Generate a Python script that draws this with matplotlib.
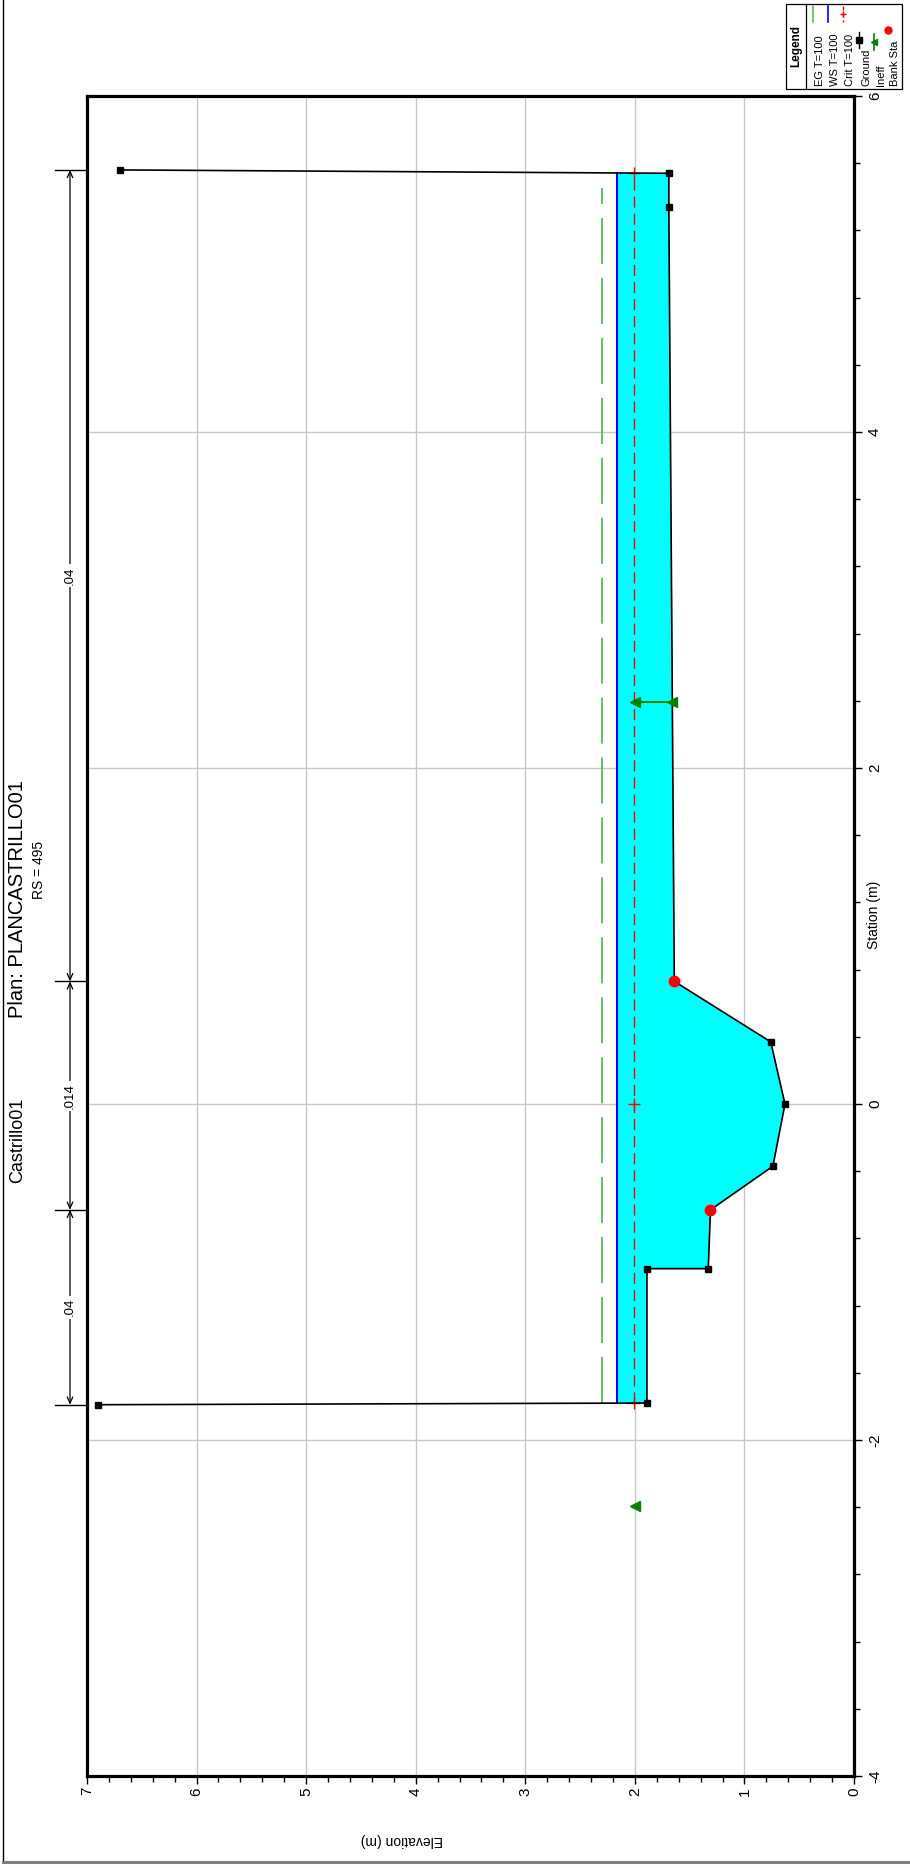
import numpy as np
import matplotlib
matplotlib.use("Agg")
import matplotlib.pyplot as plt
import matplotlib.transforms as mtransforms
from matplotlib.patches import Rectangle
from matplotlib.lines import Line2D
from matplotlib.ticker import MultipleLocator

plt.rcParams['font.family'] = ['Liberation Sans', 'DejaVu Sans']
plt.rcParams['axes.unicode_minus'] = False

# ground profile (station m, elevation m)
gr_sta = [-1.79, -1.78, -0.98, -0.98, -0.63, -0.37, 0.00, 0.37, 0.73, 5.34, 5.54, 5.56]
gr_elev = [6.90, 1.89, 1.89, 1.33, 1.31, 0.74, 0.63, 0.76, 1.64, 1.69, 1.69, 6.70]

bank_sta = [-0.63, 0.73]
bank_elev = [1.31, 1.64]

# water surfaces for T=100
ws_elev = 2.16
crit_elev = 2.01
eg_elev = 2.30
wet_sta = [-1.78, 5.54]
crit_mark_sta = [-1.78, 0.00, 5.54]

# ineffective flow markers
ineff_sta = [2.39, -2.39]
ineff_elev = [2.00, 2.00]
ineff_ground = [1.66, None]

# manning's n
n_bounds = [-1.79, -0.63, 0.73, 5.56]
n_labels = ['.04', '.014', '.04']

W, H = 910, 1868
def fx(x):
    return x / W
def fy(y):
    return 1 - y / H

fig = plt.figure(figsize=(W / 100, H / 100), dpi=100)
ax = fig.add_axes([fx(87), fy(1776), (854 - 87) / W, (1776 - 96) / H])

# plot is turned on its side: elevation runs right->left, station runs up
ax.set_xlim(7, 0)
ax.set_ylim(-4, 6)

# water fill between ground and ws
i0 = gr_sta.index(wet_sta[0])
i1 = gr_sta.index(wet_sta[1])
ax.fill_betweenx(gr_sta[i0:i1 + 1], gr_elev[i0:i1 + 1], ws_elev, color='#00ffff', lw=0, zorder=1)

ax.plot([ws_elev, ws_elev], wet_sta, color='#0000ff', lw=1.5, zorder=3)
crit_line, = ax.plot([crit_elev, crit_elev], wet_sta, color='red', lw=1, zorder=3)
crit_line.set_dashes([8, 4.3])
ax.plot([crit_elev] * len(crit_mark_sta), crit_mark_sta, ls='none', marker='+', ms=8, mew=1, color='red', zorder=4)
eg_line, = ax.plot([eg_elev, eg_elev], [wet_sta[0], 5.45], color='#5cb85c', lw=1.3, zorder=3)
eg_line.set_dashes([25.5, 7.7])

# ground
ax.plot(gr_elev, gr_sta, color='black', lw=1.2, marker='s', ms=5, zorder=5)
ax.plot(bank_elev, bank_sta, ls='none', marker='o', ms=7.5, color='red', zorder=6)

# ineffective areas
for s, e, g in zip(ineff_sta, ineff_elev, ineff_ground):
    if g is not None:
        ax.plot([g, e], [s, s], color='#008000', lw=1.5, zorder=6)
        ax.plot([g], [s], ls='none', marker='<', ms=7, color='#008000', zorder=7)
    ax.plot([e], [s], ls='none', marker='<', ms=7, color='#008000', zorder=7)

# axes styling
ax.xaxis.set_major_locator(MultipleLocator(1))
ax.xaxis.set_minor_locator(MultipleLocator(0.2))
ax.yaxis.set_major_locator(MultipleLocator(2))
ax.yaxis.set_minor_locator(MultipleLocator(0.4))
ax.yaxis.tick_right()
ax.grid(True, which='major', color='#c8c8c8', lw=1, zorder=0)
ax.set_axisbelow(True)
for sp in ax.spines.values():
    sp.set_linewidth(2.3)
ax.tick_params(which='major', length=6, width=1, labelsize=11, pad=2)
ax.tick_params(which='minor', length=4, width=1)
ax.tick_params(axis='y', which='major', pad=4)
for lab in ax.get_xticklabels():
    lab.set_rotation(90)
for lab in ax.get_yticklabels():
    lab.set_rotation(90)
    lab.set_va('center')

# manning's n dimension lines in the left margin
trans = mtransforms.blended_transform_factory(ax.transAxes, ax.transData)
xv = (70 - 87) / (854 - 87)
xt = (55 - 87) / (854 - 87)
for s in n_bounds:
    ax.plot([xt, 0], [s, s], color='black', lw=1, transform=trans, clip_on=False)
for i, lab in enumerate(n_labels):
    ax.annotate('', xy=(xv, n_bounds[i]), xytext=(xv, n_bounds[i + 1]),
                xycoords=trans, textcoords=trans,
                arrowprops=dict(arrowstyle='<->,head_length=0.45,head_width=0.2',
                                lw=0.9, color='black', shrinkA=0, shrinkB=0))
    ax.text(xv, (n_bounds[i] + n_bounds[i + 1]) / 2, lab, transform=trans,
            rotation=90, ha='center', va='center', fontsize=9.5,
            bbox=dict(fc='white', ec='none', pad=1.5))

# titles
fig.text(fx(18), fy(1140), 'Castrillo01', rotation=90, ha='center', va='center', fontsize=13)
fig.text(fx(18), fy(899), 'Plan: PLANCASTRILLO01', rotation=90, ha='center', va='center', fontsize=14.5)
fig.text(fx(39), fy(870), 'RS = 495', rotation=90, ha='center', va='center', fontsize=10)
fig.text(fx(874), fy(915), 'Station (m)', rotation=90, ha='center', va='center', fontsize=10)
fig.text(fx(402), fy(1840), 'Elevation (m)', rotation=180, ha='center', va='center', fontsize=10)

# legend box, drawn by hand since it is turned too
fig.patches.append(Rectangle((fx(786), fy(89)), 116 / W, 85 / H, transform=fig.transFigure,
                             fill=False, ec='black', lw=0.9))
fig.lines.append(Line2D([fx(806), fx(806)], [fy(4), fy(89)], transform=fig.transFigure, color='black', lw=0.9))
fig.text(fx(796), fy(46), 'Legend', rotation=90, ha='center', va='center', fontsize=8.5, fontweight='bold')
leg_names = ['EG T=100', 'WS T=100', 'Crit T=100', 'Ground', 'Ineff', 'Bank Sta']
leg_x = [818, 833, 848, 864, 879, 893]
leg_sym_y = [14, 14, 14, 40, 42, 30]
for name, x, sy in zip(leg_names, leg_x, leg_sym_y):
    fig.text(fx(x + 2), fy(86), name, rotation=90, ha='center', va='bottom', fontsize=8)
leg_style = [dict(color='#5cb85c', lw=1.2), dict(color='#0000ff', lw=1.2), dict(color='red', lw=1, ls=(0, (3, 2))),
             dict(color='black', lw=1), dict(color='#008000', lw=1.2), None]
for name, x, sy, st in zip(leg_names, leg_x, leg_sym_y, leg_style):
    xs = fx(x - 5)
    if st is not None:
        fig.lines.append(Line2D([xs, xs], [fy(sy - 8), fy(sy + 8)], transform=fig.transFigure, **st))
    if name == 'Crit T=100':
        fig.lines.append(Line2D([xs], [fy(sy)], transform=fig.transFigure, ls='none', marker='+', ms=5, color='red'))
    if name == 'Ground':
        fig.lines.append(Line2D([xs], [fy(sy)], transform=fig.transFigure, ls='none', marker='s', ms=4, color='black'))
    if name == 'Ineff':
        fig.lines.append(Line2D([xs], [fy(sy)], transform=fig.transFigure, ls='none', marker='<', ms=5, color='#008000'))
    if name == 'Bank Sta':
        fig.lines.append(Line2D([xs], [fy(sy)], transform=fig.transFigure, ls='none', marker='o', ms=5, color='red'))

# window border
fig.lines.append(Line2D([fx(2.5), fx(2.5)], [fy(0), fy(1862)], transform=fig.transFigure, color='black', lw=1))
fig.lines.append(Line2D([fx(2.5), fx(910)], [fy(1862), fy(1862)], transform=fig.transFigure, color='#808080', lw=2.2))

fig.savefig('out.png', dpi=100)
